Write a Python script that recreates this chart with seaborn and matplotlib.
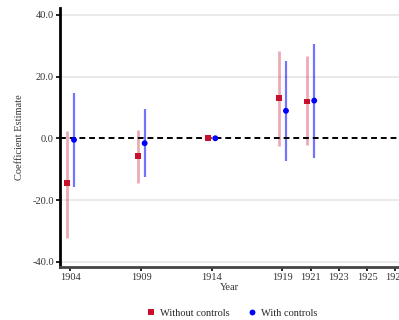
import matplotlib
matplotlib.use("Agg")
import matplotlib.pyplot as plt
import numpy as np
import pandas as pd
import seaborn as sns

# Event-study estimates by census year
years = [1904, 1909, 1914, 1919, 1921]
est_without = [-14.6, -5.6, 0.2, 13.0, 11.9]
lo_without = [-32.4, -14.4, 0.2, -2.4, -2.1]
hi_without = [2.2, 2.7, 0.2, 28.3, 26.5]
est_with = [-0.5, -1.6, 0.0, 8.9, 12.2]
lo_with = [-15.7, -12.4, 0.0, -7.3, -6.3]
hi_with = [14.6, 9.5, 0.0, 25.1, 30.5]
xticks = [1904, 1909, 1914, 1919, 1921, 1923, 1925, 1927]
yticks = [-40, -20, 0, 20, 40]

RED = "#c8102e"
BLUE = "#0000ff"
shift = 0.25
FS = 7.5

sns.set_style("white")
plt.rcParams["font.family"] = ["Liberation Serif", "DejaVu Serif"]

df = pd.concat([
    pd.DataFrame({"year": np.array(years) - shift, "est": est_without,
                  "lo": lo_without, "hi": hi_without, "model": "Without controls"}),
    pd.DataFrame({"year": np.array(years) + shift, "est": est_with,
                  "lo": lo_with, "hi": hi_with, "model": "With controls"}),
], ignore_index=True)

fig = plt.figure(figsize=(3.99, 3.2), dpi=100)
ax = fig.add_axes([60 / 399, 53 / 320, 339 / 399, 259 / 320])

for y in yticks:
    if y != 0:
        ax.axhline(y, color="#e6e6e6", lw=1.2, zorder=0)

sub = df[df.model == "Without controls"]
ax.vlines(sub.year, sub.lo, sub.hi, color=RED, alpha=0.35, lw=2.0, zorder=1)
sub = df[df.model == "With controls"]
ax.vlines(sub.year, sub.lo, sub.hi, color=BLUE, alpha=0.55, lw=1.6, zorder=1)

ax.axhline(0, color="black", lw=1.4, ls=(0, (3, 2)), zorder=2)

sns.scatterplot(data=df, x="year", y="est", hue="model", style="model",
                palette={"Without controls": RED, "With controls": BLUE},
                markers={"Without controls": "s", "With controls": "o"},
                s=18, linewidth=0, ax=ax, zorder=3)

ax.set_xlim(1903.26, 1927.25)
ax.set_ylim(-41.7, 42.2)
ax.set_xticks(xticks)
ax.set_xticklabels([str(t) for t in xticks])
ax.set_yticks(yticks)
ax.set_yticklabels([f"{t:.1f}" for t in yticks])

ax.set_xlabel("Year", fontsize=FS, color="#333333", labelpad=0.5)
ax.set_ylabel("Coefficient Estimate", fontsize=FS, color="#333333", labelpad=6)
ax.tick_params(axis="both", which="major", left=True, bottom=True,
               labelsize=FS, labelcolor="#333333", color="black",
               length=3, width=1.2, pad=1.5)

for s in ["top", "right"]:
    ax.spines[s].set_visible(False)
ax.spines["left"].set_color("black")
ax.spines["left"].set_linewidth(2.0)
ax.spines["bottom"].set_color("#444444")
ax.spines["bottom"].set_linewidth(2.0)

handles, labels = ax.get_legend_handles_labels()
ax.legend(handles, labels, loc="upper center", bbox_to_anchor=(231 / 399, 21 / 320),
          bbox_transform=fig.transFigure, ncol=2, frameon=False, fontsize=FS,
          handletextpad=0.2, handlelength=1.2, columnspacing=1.6, markerscale=1.0)

fig.savefig("out.png", dpi=100)
